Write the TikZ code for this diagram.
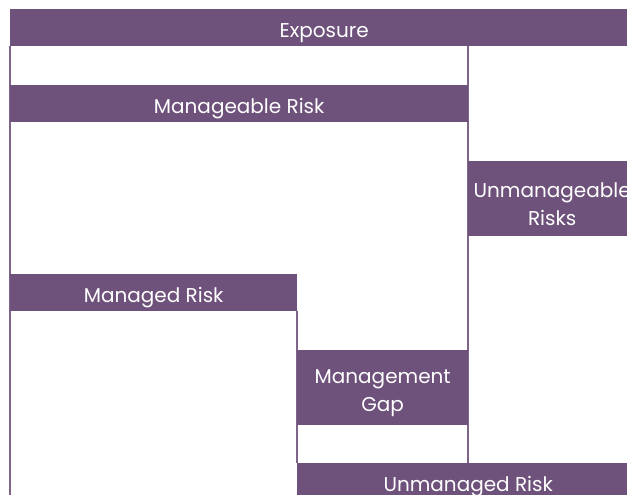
\documentclass[tikz,border=0pt]{standalone}
\usepackage{fontspec}
\setmainfont{Poppins}
\definecolor{plum}{HTML}{6E527B}
\definecolor{rule}{HTML}{7E6589}
\begin{document}
\begin{tikzpicture}[x=1pt,y=-1pt,
  bar/.style={fill=plum, text=white, inner sep=0pt, anchor=north west,
    align=center, font=\fontsize{20}{28}\selectfont,
    % a tall strut sets the text a little below centre
    execute at begin node={\rule{0pt}{25pt}}},
  tallbar/.style={bar, execute at begin node={\rule{0pt}{53pt}}},
  guide/.style={draw=rule, line width=1.1pt}]
\useasboundingbox (0,0) rectangle (627,495);
\clip (0,0) rectangle (627,495);
\fill[white] (0,0) rectangle (627,495);

% page bottom, where the open guides end
\coordinate (floor) at (0,495);

% vertical guides, drawn first so the boxes sit over them
\coordinate (leftTop) at (10,46);
\coordinate (midTop) at (468,46);
\coordinate (gapTop) at (297,311);
\coordinate (base) at (0,463);
\draw[guide] (leftTop) -- (leftTop |- floor);
\draw[guide] (midTop) -- (midTop |- base);
\draw[guide] (gapTop) -- (gapTop |- base);

% bars and boxes
\node[bar, minimum width=628pt, minimum height=37pt] (expo) at (10,9) {Exposure};
\node[bar, minimum width=458pt, minimum height=37pt] (manageable) at (10,85) {Manageable Risk};
\node[tallbar, minimum width=168pt, minimum height=75pt] (unmanageable) at (468,161) {Unmanageable\\Risks};
\node[bar, minimum width=287pt, minimum height=37pt] (managed) at (10,274) {Managed Risk};
\node[tallbar, minimum width=171pt, minimum height=75pt] (gap) at (297,350) {Management\\Gap};
\node[bar, minimum width=342pt, minimum height=37pt] (unmanaged) at (297,463) {Unmanaged Risk};
\end{tikzpicture}
\end{document}
